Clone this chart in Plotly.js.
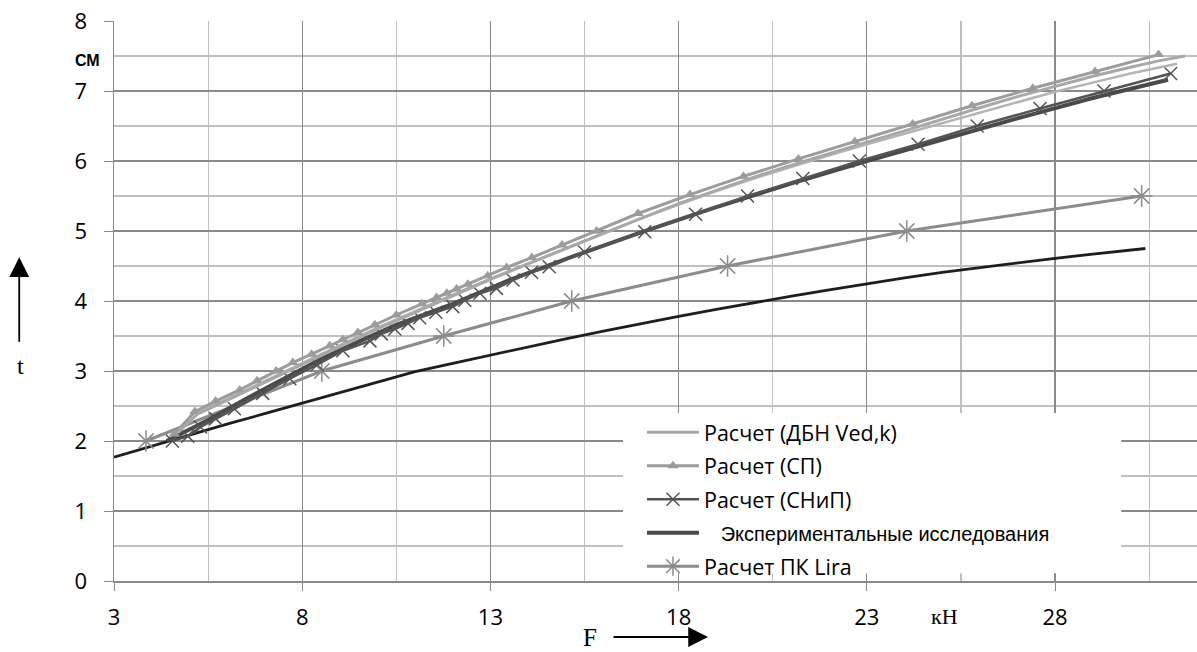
<!DOCTYPE html>
<html>
<head>
<meta charset="utf-8">
<script src="https://cdn.plot.ly/plotly-3.0.1.min.js"></script>
<style>html,body{margin:0;padding:0;background:#fff}#chart{width:1197px;height:652px}</style>
</head>
<body>
<div id="chart"></div>
<script>
// ---- data ----
const dbnX = [4.7, 5.2, 6, 7, 8, 9, 10, 11, 12, 13, 14, 15, 16, 17, 18, 19, 20, 21, 22, 23, 24, 25, 26, 27, 28, 29, 30, 30.75, 31.45];
const dbnY = [2.12, 2.38, 2.58, 2.84, 3.1, 3.35, 3.6, 3.84, 4.08, 4.31, 4.53, 4.75, 4.97, 5.18, 5.39, 5.58, 5.77, 5.94, 6.11, 6.27, 6.43, 6.6, 6.76, 6.92, 7.07, 7.21, 7.34, 7.43, 7.5];

const spX = [4.6, 5.15, 5.7, 6.34, 6.8, 7.31, 7.75, 8.25, 8.73, 9.08, 9.48, 9.93, 10.5, 11.18, 11.57, 11.84, 12.1, 12.4, 12.93, 13.43, 14.1, 14.9, 15.82, 16.92, 18.3, 19.72, 21.18, 22.68, 24.22, 25.79, 27.41, 29.06, 30.75];
const spY = [2.1, 2.42, 2.57, 2.73, 2.86, 3.0, 3.12, 3.24, 3.36, 3.45, 3.55, 3.66, 3.8, 3.96, 4.05, 4.11, 4.17, 4.24, 4.36, 4.48, 4.62, 4.8, 5.0, 5.25, 5.52, 5.78, 6.03, 6.28, 6.53, 6.79, 7.04, 7.28, 7.52];

const snipX = [4.55, 4.96, 5.3, 5.7, 6.2, 6.95, 7.67, 8.4, 9.08, 9.8, 10.1, 10.46, 10.81, 11.12, 11.55, 12.0, 12.32, 12.72, 13.16, 13.6, 14.09, 14.56, 15.5, 17.1, 18.45, 19.83, 21.3, 22.8, 24.36, 25.93, 27.6, 29.3, 31.07];
const snipY = [2.0, 2.07, 2.2, 2.32, 2.46, 2.68, 2.89, 3.09, 3.29, 3.43, 3.53, 3.6, 3.68, 3.76, 3.84, 3.92, 4.01, 4.11, 4.18, 4.3, 4.41, 4.49, 4.7, 4.99, 5.24, 5.5, 5.75, 6.0, 6.24, 6.5, 6.75, 7.0, 7.25];

const expX = [4.4, 5.5, 6.5, 7.5, 8.5, 9.5, 10.5, 12, 13.5, 15, 17, 19, 21, 23, 25, 27, 29, 31.0];
const expY = [2.0, 2.3, 2.6, 2.89, 3.17, 3.42, 3.66, 3.96, 4.3, 4.6, 4.98, 5.34, 5.68, 6.0, 6.31, 6.61, 6.9, 7.16];

const liraX = [3.85, 8.52, 11.76, 15.16, 19.3, 24.06, 30.3];
const liraY = [2.0, 3.0, 3.5, 4.0, 4.5, 5.0, 5.5];

const extraLightX = [4.7, 5.3, 6, 7, 8, 9, 10, 11, 12, 13, 14, 15, 16, 17, 18, 19, 20, 21, 22, 23, 24, 25, 26, 27, 28, 29, 30, 31.24];
const extraLightY = [2.15, 2.42, 2.6, 2.86, 3.12, 3.37, 3.62, 3.86, 4.09, 4.32, 4.54, 4.76, 4.97, 5.18, 5.38, 5.57, 5.75, 5.92, 6.08, 6.24, 6.39, 6.55, 6.7, 6.85, 6.99, 7.12, 7.25, 7.39];

const lowX = [3, 4, 5, 6, 7, 8, 9, 10, 11, 12, 13, 14, 15, 16, 17, 18, 19, 20, 21, 22, 23, 24, 25, 26, 27, 28, 29, 30, 30.4];
const lowY = [1.77, 1.93, 2.09, 2.24, 2.39, 2.54, 2.69, 2.84, 2.99, 3.11, 3.23, 3.35, 3.46, 3.57, 3.68, 3.78, 3.88, 3.98, 4.07, 4.16, 4.25, 4.33, 4.41, 4.48, 4.55, 4.61, 4.67, 4.73, 4.75];

const seriesNames = ['Расчет (ДБН Ved,k)', 'Расчет (СП)', 'Расчет (СНиП)', 'Экспериментальные исследования', 'Расчет ПК Lira'];
const xTickVals = [3, 8, 13, 18, 23, 28];
const yTickVals = [0, 1, 2, 3, 4, 5, 6, 7, 8];

// ---- traces ----
const traces = [
  {x: lowX, y: lowY, mode: 'lines', line: {color: '#1e1e1e', width: 2.8}, showlegend: false, hoverinfo: 'skip'},
  {x: liraX, y: liraY, mode: 'lines+markers', name: seriesNames[4], legendgroup: 'g5', legendrank: 5,
    line: {color: '#8c8c8c', width: 3}, marker: {symbol: 'asterisk-open', size: 18, color: '#8c8c8c', line: {color: '#8c8c8c', width: 1.5}}},
  {x: expX, y: expY, mode: 'lines', name: '<span style="font-family:Liberation Sans,Arial;font-size:20px">&nbsp;&nbsp;&nbsp;' + seriesNames[3] + '</span>', legendgroup: 'g4', legendrank: 4,
    line: {color: '#4a4a4a', width: 4}},
  {x: snipX, y: snipY, mode: 'lines+markers', name: seriesNames[2], legendgroup: 'g3', legendrank: 3,
    line: {color: '#545454', width: 2.5}, marker: {symbol: 'x-thin-open', size: 13, color: '#545454', line: {color: '#545454', width: 1.5}}},
  {x: extraLightX, y: extraLightY, mode: 'lines', line: {color: '#b4b4b4', width: 2.5}, showlegend: false, hoverinfo: 'skip'},
  {x: spX, y: spY, mode: 'lines+markers', name: seriesNames[1], legendgroup: 'g2', legendrank: 2,
    line: {color: '#9c9c9c', width: 3}, marker: {symbol: 'triangle-up', size: 10, color: '#9c9c9c'}},
  {x: dbnX, y: dbnY, mode: 'lines', name: seriesNames[0], legendgroup: 'g1', legendrank: 1,
    line: {color: '#a8a8a8', width: 3}}
];

const serif = 'Liberation Serif, Times New Roman, serif';
function note(x, y, text, font) {
  return {xref: 'paper', yref: 'paper', x: x, y: y, text: text, showarrow: false,
    xanchor: 'center', yanchor: 'middle', font: font};
}
const layout = {
  width: 1197, height: 652,
  margin: {l: 114, r: 0, t: 21, b: 71},
  paper_bgcolor: '#fff', plot_bgcolor: '#fff',
  font: {family: 'Open Sans, sans-serif', size: 22, color: '#000'},
  showlegend: true,
  legend: {x: 0.4875, y: 0.302, xanchor: 'left', yanchor: 'top', bgcolor: 'rgba(0,0,0,0)', borderwidth: 0,
    font: {family: 'Open Sans, sans-serif', size: 21.5, color: '#000'}, tracegroupgap: 2.5, itemwidth: 52,
    traceorder: 'grouped'},
  // white backing box of the legend (covers the grid like the original)
  shapes: [
    {type: 'rect', xref: 'paper', yref: 'paper', x0: 0.470, x1: 0.930, y0: 0.014, y1: 0.30,
      fillcolor: '#fff', line: {width: 0}, layer: 'above'}
  ],
  xaxis: {range: [3, 31.77], tickvals: xTickVals, showgrid: true, gridcolor: '#8a8a8a', gridwidth: 1.2,
    showline: true, linecolor: '#8a8a8a', linewidth: 1.5, ticks: 'outside', ticklen: 8, tickcolor: '#8a8a8a',
    ticklabelstandoff: 8, zeroline: false, tickfont: {size: 22},
    minor: {dtick: 2.5, tick0: 3, showgrid: true, gridcolor: '#c0c0c0', gridwidth: 1.2, ticks: 'inside', ticklen: 0}},
  yaxis: {range: [0, 8], tickvals: yTickVals, showgrid: true, gridcolor: '#8a8a8a', gridwidth: 1.2,
    showline: true, linecolor: '#8a8a8a', linewidth: 1.5, ticks: 'outside', ticklen: 9, tickcolor: '#8a8a8a',
    ticklabelstandoff: 12, zeroline: false, tickfont: {size: 22},
    minor: {dtick: 0.5, tick0: 0, showgrid: true, gridcolor: '#c0c0c0', gridwidth: 1.2}},
  annotations: [
    note(-0.0245, 0.929, '<b>СМ</b>', {family: 'Liberation Sans, Arial', size: 16, color: '#000'}),
    note(-0.0865, 0.384, 't', {family: serif, size: 24, color: '#000'}),
    {xref: 'paper', yref: 'paper', x: -0.0875, y: 0.578, text: '', showarrow: true, arrowhead: 2, arrowsize: 2.2,
      arrowwidth: 1.8, arrowcolor: '#000', ax: 0, ay: 86, standoff: 0},
    note(0.4395, -0.101, 'F', {family: serif, size: 25, color: '#000'}),
    {xref: 'paper', yref: 'paper', x: 0.5485, y: -0.1, text: '', showarrow: true, arrowhead: 2, arrowsize: 2.2,
      arrowwidth: 1.8, arrowcolor: '#000', ax: -96, ay: 0, standoff: 0},
    note(0.767, -0.064, 'кН', {family: serif, size: 22, color: '#000'})
  ]
};

Plotly.newPlot('chart', traces, layout, {staticPlot: true, displayModeBar: false});
</script>
</body>
</html>
